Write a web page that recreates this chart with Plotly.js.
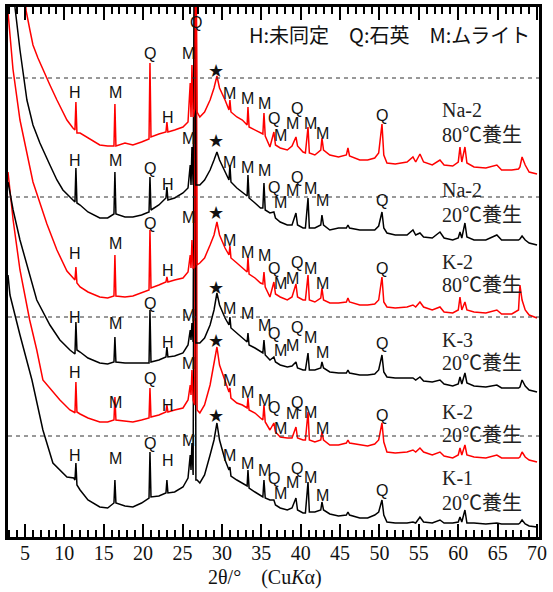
<!DOCTYPE html>
<html>
<head>
<meta charset="utf-8">
<script src="https://cdn.plot.ly/plotly-3.0.1.min.js"></script>
<style>html,body{margin:0;padding:0;background:#fff;}#chart{width:553px;height:592px;}</style>
</head>
<body>
<div id="chart"></div>
<script>
// Shared 2θ grid (degrees) from 11.35° onward
const twoTheta = [11.35,11.47,11.6,12.0,13.0,14.5,15.5,16.3,16.42,16.55,17.7,18.7,19.8,20.75,20.87,21.0,22.0,22.9,23.02,23.15,24.0,25.06,25.7,25.98,26.08,26.2,26.35,26.55,26.7,26.85,27.2,27.8,28.5,29.0,29.37,29.7,30.4,30.9,31.02,31.15,31.9,32.6,33.2,33.31,33.45,34.2,34.9,35.2,35.34,35.5,36.1,36.6,36.8,37.4,38.3,38.9,39.4,39.6,40.3,40.6,40.93,41.1,41.8,42.55,42.7,42.9,43.7,44.8,45.8,46.0,46.2,47.5,48.5,49.4,49.9,50.32,50.55,50.95,52.0,53.5,54.25,54.6,55.14,55.6,56.7,57.68,58.2,59.3,60.0,60.22,60.45,60.85,61.1,62.0,63.5,64.9,65.5,66.8,67.65,67.83,68.1,68.5,69.0,70.0];

// Low-angle parts (own 2θ points) and intensities (stacked, arbitrary units)
const na2_80_lowX = [4.9,5.13,5.63,6.02,6.65,7.28,8.17,9.06,9.82,10.33,11.09];
const na2_80_lowY = [600,527,507,492,479,467,452,437,425,417,409];
const na2_80 = [407,435,404,404,399,392,391,391,433,391,394,392,395,398,474,400,403,405,415,405,407,410,415,454,420,472,420,428,620,425,420,425,437,449,461,449,437,427,437,425,420,417,412,430,410,407,404,403,424,401,390,405,392,389,387,391,400,391,385,384,410,384,382,387,399,387,382,380,382,389,381,377,377,379,384,413,382,374,373,375,380,375,383,375,372,377,372,371,375,390,375,390,374,370,369,372,367,367,368,370,380,372,365,363];

const na2_20_lowX = [3.6,3.73,4.37,5.25,6.02,6.9,8.17,9.06,9.82,10.71,11.09];
const na2_20_lowY = [600,530,487,437,412,394,372,357,347,340,337];
const na2_20 = [335,369,334,332,325,319,319,323,365,323,320,320,322,325,360,327,332,339,350,337,339,344,349,372,352,390,352,620,352,352,352,357,367,377,385,377,365,357,372,355,349,345,341,362,339,334,329,329,354,327,324,325,319,315,312,312,324,312,309,309,339,309,309,312,322,312,307,309,309,312,309,307,307,307,311,325,309,304,302,302,307,302,304,300,299,305,299,297,299,305,299,314,300,297,297,302,297,297,297,298,301,297,294,292];

const k2_80_lowX = [2.85,3.10,3.48,4.37,5.25,6.02,7.79,9.06,10.33,11.09];
const k2_80_lowY = [525,503,468,417,382,355,313,287,266,259];
const k2_80 = [257,270,254,250,245,240,239,241,282,241,240,241,244,247,307,249,252,255,260,255,257,259,265,282,269,297,269,270,620,272,274,279,292,302,315,302,289,282,291,279,274,269,265,280,263,259,254,253,265,250,240,255,243,240,237,240,253,240,237,237,262,237,235,239,249,237,234,234,235,239,235,232,232,233,237,260,235,230,229,230,232,230,235,230,227,230,225,224,227,240,227,235,227,225,224,227,223,223,227,252,237,227,222,219];

const k3_20_lowX = [2.85,3.5,4.37,5.6,6.5,8.17,9.44,10.71,11.2];
const k3_20_lowY = [355,327,297,262,237,212,197,187,184];
const k3_20 = [183,215,187,185,179,174,173,175,200,175,174,174,174,174,227,175,177,180,190,180,181,184,192,207,197,214,195,620,194,194,194,199,212,227,244,232,219,212,220,209,204,199,195,204,192,189,185,184,197,182,177,180,175,172,170,171,175,169,167,167,184,167,167,169,175,169,165,164,164,167,164,162,162,163,167,182,165,160,159,159,159,157,160,156,155,157,153,151,153,160,153,164,154,151,150,152,149,149,149,150,157,151,147,145];

const k2_20_lowX = [2.85,3.5,4.37,5.6,6.5,7.28,9.44,10.71,11.2];
const k2_20_lowY = [365,317,267,217,187,157,137,127,125];
const k2_20 = [124,155,125,123,119,115,115,117,140,117,116,115,117,119,149,120,122,125,132,125,127,129,137,152,142,167,137,132,620,127,124,132,152,172,190,172,155,145,149,139,134,132,129,139,127,124,119,117,132,115,107,114,105,100,99,99,110,99,97,97,125,97,95,97,105,97,92,92,94,97,94,92,91,93,97,114,95,85,84,85,87,85,89,85,82,85,81,79,82,89,82,92,82,80,79,82,79,79,79,80,85,80,77,75];

const k1_20_lowX = [2.85,3.1,4.37,5.89,7.28,8.55,10.33,11.2];
const k1_20_lowY = [262,242,202,157,107,74,60,59];
const k1_20 = [57,74,52,47,37,30,29,34,57,34,31,30,34,39,85,40,41,44,57,44,45,50,59,82,67,94,62,620,57,57,54,62,82,97,114,97,77,67,70,61,57,54,51,67,49,45,41,40,57,39,37,37,32,29,27,29,39,27,24,24,55,25,25,27,35,27,23,21,22,25,22,19,19,22,25,37,22,15,14,14,15,14,20,15,14,17,14,14,15,20,15,27,14,14,13,14,13,13,13,14,17,13,11,10];

// Phase labels
const peakLetters = ["H","M","Q","H","M","★","M","M","M","Q","M","M","Q","M","M","Q"];
const peakPos = [11.35,16.5,20.87,23.15,25.7,29.25,31.0,33.25,35.4,36.6,37.4,38.9,39.5,41.3,42.75,50.32];
const lab_na2_80 = [445,445,484,420,484,467,444,439,434,419,402,414,429,414,404,422];
const lab_na2_20 = [377,377,369,353,399,397,375,370,367,350,335,347,360,349,337,337];
const lab_k2_80 = [284,294,314,267,320,325,297,285,282,269,254,259,275,269,254,269];
const lab_k3_20 = [220,214,234,195,222,250,229,224,212,204,187,192,210,200,185,194];
const lab_k2_20 = [165,135,159,132,174,197,157,145,137,130,109,124,135,125,109,122];
const lab_k1_20 = [82,79,94,77,97,122,82,74,67,59,44,55,69,60,42,47];

// Sample names
const sampleNames = ["Na-2","Na-2","K-2","K-3","K-2","K-1"];
const curingText = ["80℃養生","20℃養生","80℃養生","20℃養生","20℃養生","20℃養生"];
const nameY = [427,347,275,197,125,59];
const curingY = [402,322,252,174,102,34];
const refLines = [459,340,220,101];
const tickVals = [5,10,15,20,25,30,35,40,45,50,55,60,65,70];

const series = [
  {lx:k1_20_lowX, ly:k1_20_lowY, v:k1_20, c:'#000000'},
  {lx:k2_20_lowX, ly:k2_20_lowY, v:k2_20, c:'#ff0000'},
  {lx:k3_20_lowX, ly:k3_20_lowY, v:k3_20, c:'#000000'},
  {lx:k2_80_lowX, ly:k2_80_lowY, v:k2_80, c:'#ff0000'},
  {lx:na2_20_lowX, ly:na2_20_lowY, v:na2_20, c:'#000000'},
  {lx:na2_80_lowX, ly:na2_80_lowY, v:na2_80, c:'#ff0000'}
];
const traces = series.map(s => ({
  type:'scatter', mode:'lines',
  x: s.lx.concat(twoTheta), y: s.ly.concat(s.v),
  line:{color:s.c, width:1.5}, hoverinfo:'skip', showlegend:false
}));

const annotations = [];
const labSets = [lab_na2_80, lab_na2_20, lab_k2_80, lab_k3_20, lab_k2_20, lab_k1_20];
labSets.forEach(ys => {
  peakLetters.forEach((t,i) => {
    annotations.push({x:peakPos[i], y:ys[i], text:t, showarrow:false,
      font:{family: t==='★' ? 'DejaVu Sans' : 'Liberation Sans, Arial', size: t==='★'?18:16, color:'#111'}});
  });
});
annotations.push({x:26.7, y:515, text:'Q', showarrow:false, font:{family:'Liberation Sans, Arial', size:16, color:'#111'}});
sampleNames.forEach((n,i) => {
  annotations.push({x:57.7, y:nameY[i], text:n, xanchor:'left', showarrow:false,
    font:{family:'Liberation Serif, Noto Sans CJK JP, serif', size:20, color:'#222'}});
  annotations.push({x:57.7, y:curingY[i], text:curingText[i], xanchor:'left', showarrow:false,
    font:{family:'Liberation Serif, Noto Sans CJK JP, serif', size:20, color:'#222'}});
});
annotations.push({xref:'paper', yref:'paper', x:0.987, y:(537-35)/530, xanchor:'right', yanchor:'middle',
  text:'H:未同定\u3000Q:石英\u3000M:ムライト', showarrow:false,
  font:{family:'Noto Sans CJK JP', size:20, color:'#111'}});
annotations.push({xref:'paper', yref:'paper', x:(265-8)/531, y:(537-577)/530, xanchor:'center', yanchor:'middle',
  text:'2θ/°\u00a0\u00a0\u00a0\u00a0(Cu<i>K</i>α)', showarrow:false,
  font:{family:'Liberation Serif, serif', size:20, color:'#111'}});

const shapes = refLines.map(v => ({type:'line', xref:'paper', x0:0, x1:1, yref:'y', y0:v, y1:v,
  line:{color:'#333', width:1, dash:'4px,4px'}}));

const layout = {
  width:553, height:592,
  margin:{l:8, r:14, t:7, b:55},
  paper_bgcolor:'#fff', plot_bgcolor:'#fff',
  showlegend:false,
  xaxis:{range:[2.85,70.25], tickvals:tickVals, ticktext:tickVals.map(String),
    ticks:'inside', ticklen:13, tickwidth:2, tickcolor:'#000',
    minor:{dtick:1, tick0:0, ticks:'inside', ticklen:7, tickwidth:2, tickcolor:'#000'},
    showline:true, linewidth:3, linecolor:'#000', mirror:'allticks',
    showgrid:false, zeroline:false, ticklabelstandoff:-4,
    tickfont:{family:'Liberation Serif, serif', size:20, color:'#111'}},
  yaxis:{range:[0,530], showticklabels:false, ticks:'', showgrid:false, zeroline:false,
    showline:true, linewidth:3, linecolor:'#000', mirror:true},
  annotations: annotations,
  shapes: shapes
};
Plotly.newPlot('chart', traces, layout, {staticPlot:true, displayModeBar:false});
</script>
</body>
</html>
